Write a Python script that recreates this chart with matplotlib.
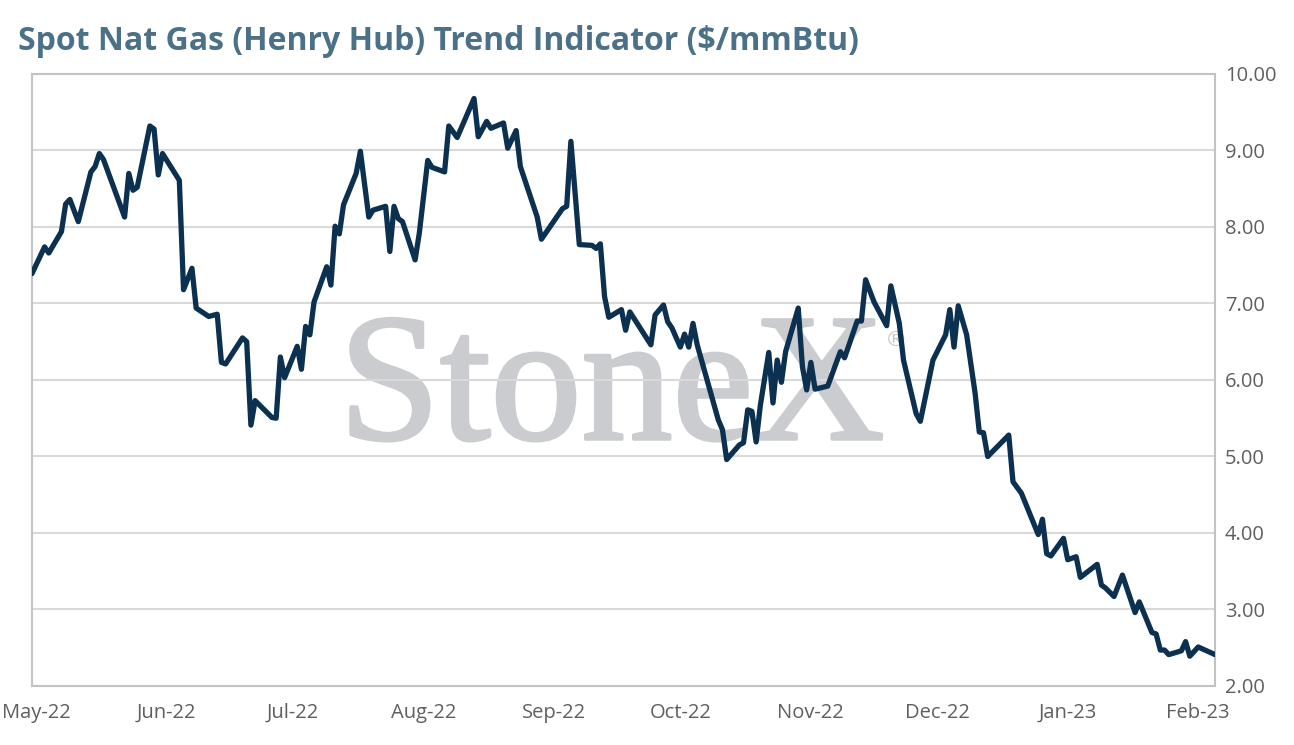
import pandas as pd
import matplotlib.pyplot as plt
import matplotlib.dates as mdates
import matplotlib.patheffects as pe

# trend indicator points
dates = [
    "2022-04-30", "2022-05-03", "2022-05-04", "2022-05-07", "2022-05-08", "2022-05-09",
    "2022-05-11", "2022-05-14", "2022-05-15", "2022-05-16", "2022-05-17", "2022-05-22",
    "2022-05-23", "2022-05-24", "2022-05-25", "2022-05-28", "2022-05-29", "2022-05-30",
    "2022-05-31", "2022-06-04", "2022-06-05", "2022-06-07", "2022-06-08", "2022-06-11",
    "2022-06-13", "2022-06-14", "2022-06-15", "2022-06-19", "2022-06-20", "2022-06-21",
    "2022-06-22", "2022-06-26", "2022-06-27", "2022-06-28", "2022-06-29", "2022-07-02",
    "2022-07-03", "2022-07-04", "2022-07-05", "2022-07-06", "2022-07-09", "2022-07-10",
    "2022-07-11", "2022-07-12", "2022-07-13", "2022-07-16", "2022-07-17", "2022-07-19",
    "2022-07-20", "2022-07-23", "2022-07-24", "2022-07-25", "2022-07-26", "2022-07-27",
    "2022-07-30", "2022-07-31", "2022-08-02", "2022-08-03", "2022-08-06", "2022-08-07",
    "2022-08-09", "2022-08-13", "2022-08-14", "2022-08-16", "2022-08-17", "2022-08-20",
    "2022-08-21", "2022-08-23", "2022-08-24", "2022-08-28", "2022-08-29", "2022-09-03",
    "2022-09-04", "2022-09-05", "2022-09-07", "2022-09-10", "2022-09-11", "2022-09-12",
    "2022-09-13", "2022-09-14", "2022-09-17", "2022-09-18", "2022-09-19", "2022-09-24",
    "2022-09-25", "2022-09-27", "2022-09-28", "2022-09-29", "2022-10-01", "2022-10-02",
    "2022-10-03", "2022-10-04", "2022-10-05", "2022-10-10", "2022-10-11", "2022-10-12",
    "2022-10-15", "2022-10-16", "2022-10-17", "2022-10-18", "2022-10-19", "2022-10-20",
    "2022-10-22", "2022-10-23", "2022-10-24", "2022-10-25", "2022-10-26", "2022-10-29",
    "2022-10-30", "2022-10-31", "2022-11-01", "2022-11-02", "2022-11-05", "2022-11-08",
    "2022-11-09", "2022-11-12", "2022-11-13", "2022-11-14", "2022-11-16", "2022-11-19",
    "2022-11-20", "2022-11-22", "2022-11-23", "2022-11-26", "2022-11-27", "2022-11-30",
    "2022-12-03", "2022-12-04", "2022-12-05", "2022-12-06", "2022-12-08", "2022-12-10",
    "2022-12-11", "2022-12-12", "2022-12-13", "2022-12-18", "2022-12-19", "2022-12-21",
    "2022-12-25", "2022-12-26", "2022-12-27", "2022-12-28", "2022-12-31", "2023-01-01",
    "2023-01-03", "2023-01-04", "2023-01-08", "2023-01-09", "2023-01-10", "2023-01-12",
    "2023-01-14", "2023-01-17", "2023-01-18", "2023-01-21", "2023-01-22", "2023-01-23",
    "2023-01-24", "2023-01-25", "2023-01-28", "2023-01-29", "2023-01-30", "2023-02-01",
    "2023-02-05",
]
price = [
    7.39, 7.74, 7.66, 7.94, 8.30, 8.36,
    8.07, 8.72, 8.79, 8.96, 8.88, 8.13,
    8.70, 8.48, 8.52, 9.32, 9.28, 8.68,
    8.96, 8.61, 7.18, 7.46, 6.94, 6.83,
    6.86, 6.23, 6.21, 6.55, 6.50, 5.41,
    5.73, 5.51, 5.50, 6.30, 6.03, 6.44,
    6.14, 6.70, 6.59, 7.02, 7.48, 7.24,
    8.01, 7.91, 8.29, 8.70, 8.99, 8.13,
    8.22, 8.27, 7.68, 8.27, 8.11, 8.07,
    7.57, 7.92, 8.87, 8.78, 8.72, 9.32,
    9.17, 9.68, 9.18, 9.38, 9.29, 9.36,
    9.03, 9.26, 8.79, 8.13, 7.84, 8.24,
    8.27, 9.12, 7.77, 7.76, 7.72, 7.78,
    7.09, 6.82, 6.92, 6.65, 6.89, 6.46,
    6.85, 6.98, 6.76, 6.68, 6.43, 6.60,
    6.43, 6.74, 6.46, 5.48, 5.35, 4.96,
    5.15, 5.18, 5.61, 5.59, 5.19, 5.67,
    6.36, 5.70, 6.26, 5.97, 6.37, 6.94,
    6.17, 5.87, 6.23, 5.88, 5.92, 6.37,
    6.29, 6.77, 6.77, 7.31, 7.02, 6.71,
    7.23, 6.74, 6.26, 5.56, 5.46, 6.26,
    6.59, 6.92, 6.43, 6.97, 6.59, 5.83,
    5.32, 5.31, 5.00, 5.28, 4.67, 4.52,
    3.98, 4.18, 3.73, 3.70, 3.93, 3.65,
    3.69, 3.42, 3.59, 3.32, 3.28, 3.17,
    3.45, 2.96, 3.10, 2.70, 2.68, 2.47,
    2.47, 2.41, 2.46, 2.58, 2.39, 2.51,
    2.41,
]
y_ticks = [2, 3, 4, 5, 6, 7, 8, 9, 10]

x = pd.to_datetime(dates)

fig = plt.figure(figsize=(12.94, 7.45), dpi=100)
ax = fig.add_axes([0.0247, 0.0792, 0.9143, 0.8215])

# watermark (regular serif, thickened a little with a stroke)
wm = "#cbccd0"
ax.text(0.49, 0.475, "StoneX", transform=ax.transAxes, ha="center", va="center",
        fontsize=131, family="Liberation Serif", color=wm, zorder=0,
        path_effects=[pe.Stroke(linewidth=2.5, foreground=wm), pe.Normal()])
ax.text(0.73, 0.565, "®", transform=ax.transAxes, ha="center", va="center",
        fontsize=16, family="DejaVu Sans", color="#c4c5c9", zorder=0)

ax.plot(x, price, color="#0c3050", lw=3.8, solid_joinstyle="round",
        solid_capstyle="round", zorder=3)

ax.set_ylim(2, 10)
ax.set_yticks(y_ticks)
ax.yaxis.set_major_formatter(plt.FuncFormatter(lambda v, p: f"{v:.2f}"))
ax.yaxis.tick_right()
ax.grid(axis="y", color="#d9d9d9", lw=1.5, zorder=1)

ax.set_xlim(x[0], x[-1])
ax.xaxis.set_major_locator(mdates.MonthLocator())
ax.xaxis.set_major_formatter(mdates.DateFormatter("%b-%y"))

for s in ax.spines.values():
    s.set_color("#c3c3c3")
    s.set_linewidth(1.5)

ax.tick_params(axis="both", length=0, labelsize=14.5, labelcolor="#5f5f5f",
               labelfontfamily="Open Sans")
ax.tick_params(axis="y", pad=7)
ax.tick_params(axis="x", pad=12)

fig.text(0.014, 0.944, "Spot Nat Gas (Henry Hub) Trend Indicator ($/mmBtu)",
         fontsize=23, fontweight="bold", family="Open Sans", color="#4b7189",
         ha="left", va="center")

fig.savefig("out.png", dpi=100)
